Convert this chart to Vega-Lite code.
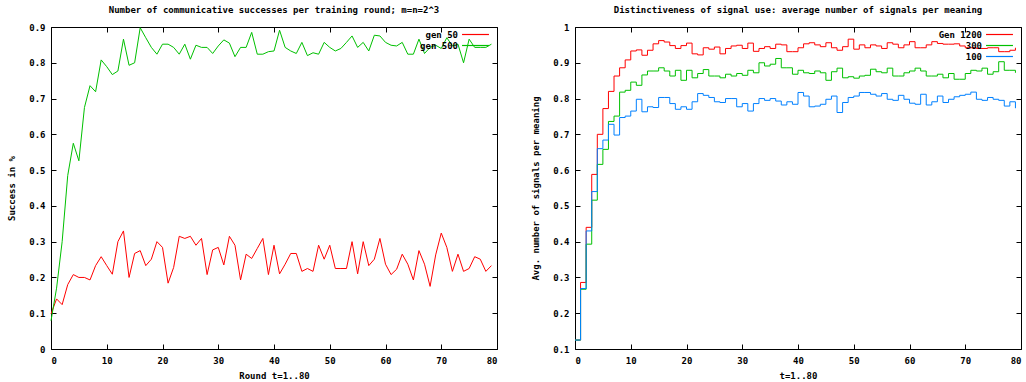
{
  "$schema": "https://vega.github.io/schema/vega-lite/v6.json",
  "background": "white",
  "padding": {"left": 7, "top": 5, "right": 0, "bottom": 0},
  "bounds": "flush",
  "spacing": 78,
  "resolve": {"scale": {"color": "independent"}, "legend": {"color": "independent"}},
  "config": {
    "font": "DejaVu Sans Mono",
    "view": {"stroke": "#000000", "strokeWidth": 1},
    "axis": {
      "domain": false,
      "grid": false,
      "tickColor": "#000000",
      "tickSize": -5,
      "labelPadding": 11,
      "labelFont": "DejaVu Sans Mono",
      "labelFontSize": 9,
      "labelFontWeight": "bold",
      "labelColor": "#000000",
      "titleFont": "DejaVu Sans Mono",
      "titleFontSize": 9,
      "titleFontWeight": "bold",
      "titleColor": "#000000"
    },
    "title": {"font": "DejaVu Sans Mono", "fontSize": 9, "fontWeight": "bold", "color": "#000000", "offset": 8, "anchor": "middle"},
    "legend": {
      "orient": "none",
      "legendX": 420,
      "legendY": 3,
      "symbolType": "M-5,0H5",
      "symbolSize": 29,
      "symbolStrokeWidth": 1.2,
      "labelAlign": "right",
      "labelOffset": -22,
      "labelFont": "DejaVu Sans Mono",
      "labelFontSize": 9,
      "labelFontWeight": "bold",
      "labelColor": "#000000",
      "padding": 0,
      "rowPadding": 1
    }
  },
  "datasets": {
    "success": [
      {"round": 0, "value": 0.098, "series": "gen 50"}, {"round": 1, "value": 0.14, "series": "gen 50"}, {"round": 2, "value": 0.124, "series": "gen 50"}, {"round": 3, "value": 0.18, "series": "gen 50"}, {"round": 4, "value": 0.208, "series": "gen 50"}, {"round": 5, "value": 0.2, "series": "gen 50"}, {"round": 6, "value": 0.2, "series": "gen 50"}, {"round": 7, "value": 0.193, "series": "gen 50"}, {"round": 8, "value": 0.233, "series": "gen 50"}, {"round": 9, "value": 0.258, "series": "gen 50"},
      {"round": 10, "value": 0.233, "series": "gen 50"}, {"round": 11, "value": 0.209, "series": "gen 50"}, {"round": 12, "value": 0.3, "series": "gen 50"}, {"round": 13, "value": 0.33, "series": "gen 50"}, {"round": 14, "value": 0.2, "series": "gen 50"}, {"round": 15, "value": 0.267, "series": "gen 50"}, {"round": 16, "value": 0.275, "series": "gen 50"}, {"round": 17, "value": 0.233, "series": "gen 50"}, {"round": 18, "value": 0.251, "series": "gen 50"}, {"round": 19, "value": 0.3, "series": "gen 50"},
      {"round": 20, "value": 0.284, "series": "gen 50"}, {"round": 21, "value": 0.184, "series": "gen 50"}, {"round": 22, "value": 0.228, "series": "gen 50"}, {"round": 23, "value": 0.315, "series": "gen 50"}, {"round": 24, "value": 0.309, "series": "gen 50"}, {"round": 25, "value": 0.315, "series": "gen 50"}, {"round": 26, "value": 0.29, "series": "gen 50"}, {"round": 27, "value": 0.309, "series": "gen 50"}, {"round": 28, "value": 0.208, "series": "gen 50"}, {"round": 29, "value": 0.277, "series": "gen 50"},
      {"round": 30, "value": 0.284, "series": "gen 50"}, {"round": 31, "value": 0.235, "series": "gen 50"}, {"round": 32, "value": 0.315, "series": "gen 50"}, {"round": 33, "value": 0.29, "series": "gen 50"}, {"round": 34, "value": 0.193, "series": "gen 50"}, {"round": 35, "value": 0.265, "series": "gen 50"}, {"round": 36, "value": 0.253, "series": "gen 50"}, {"round": 37, "value": 0.281, "series": "gen 50"}, {"round": 38, "value": 0.309, "series": "gen 50"}, {"round": 39, "value": 0.208, "series": "gen 50"},
      {"round": 40, "value": 0.29, "series": "gen 50"}, {"round": 41, "value": 0.21, "series": "gen 50"}, {"round": 42, "value": 0.237, "series": "gen 50"}, {"round": 43, "value": 0.267, "series": "gen 50"}, {"round": 44, "value": 0.267, "series": "gen 50"}, {"round": 45, "value": 0.217, "series": "gen 50"}, {"round": 46, "value": 0.225, "series": "gen 50"}, {"round": 47, "value": 0.217, "series": "gen 50"}, {"round": 48, "value": 0.29, "series": "gen 50"}, {"round": 49, "value": 0.251, "series": "gen 50"},
      {"round": 50, "value": 0.29, "series": "gen 50"}, {"round": 51, "value": 0.225, "series": "gen 50"}, {"round": 52, "value": 0.225, "series": "gen 50"}, {"round": 53, "value": 0.225, "series": "gen 50"}, {"round": 54, "value": 0.3, "series": "gen 50"}, {"round": 55, "value": 0.21, "series": "gen 50"}, {"round": 56, "value": 0.3, "series": "gen 50"}, {"round": 57, "value": 0.233, "series": "gen 50"}, {"round": 58, "value": 0.251, "series": "gen 50"}, {"round": 59, "value": 0.309, "series": "gen 50"},
      {"round": 60, "value": 0.237, "series": "gen 50"}, {"round": 61, "value": 0.208, "series": "gen 50"}, {"round": 62, "value": 0.223, "series": "gen 50"}, {"round": 63, "value": 0.265, "series": "gen 50"}, {"round": 64, "value": 0.237, "series": "gen 50"}, {"round": 65, "value": 0.193, "series": "gen 50"}, {"round": 66, "value": 0.275, "series": "gen 50"}, {"round": 67, "value": 0.237, "series": "gen 50"}, {"round": 68, "value": 0.175, "series": "gen 50"}, {"round": 69, "value": 0.263, "series": "gen 50"},
      {"round": 70, "value": 0.324, "series": "gen 50"}, {"round": 71, "value": 0.284, "series": "gen 50"}, {"round": 72, "value": 0.217, "series": "gen 50"}, {"round": 73, "value": 0.265, "series": "gen 50"}, {"round": 74, "value": 0.217, "series": "gen 50"}, {"round": 75, "value": 0.225, "series": "gen 50"}, {"round": 76, "value": 0.258, "series": "gen 50"}, {"round": 77, "value": 0.251, "series": "gen 50"}, {"round": 78, "value": 0.217, "series": "gen 50"}, {"round": 79, "value": 0.233, "series": "gen 50"},
      {"round": 0, "value": 0.079, "series": "gen 500"}, {"round": 1, "value": 0.17, "series": "gen 500"}, {"round": 2, "value": 0.3, "series": "gen 500"}, {"round": 3, "value": 0.485, "series": "gen 500"}, {"round": 4, "value": 0.575, "series": "gen 500"}, {"round": 5, "value": 0.526, "series": "gen 500"}, {"round": 6, "value": 0.675, "series": "gen 500"}, {"round": 7, "value": 0.736, "series": "gen 500"}, {"round": 8, "value": 0.719, "series": "gen 500"}, {"round": 9, "value": 0.808, "series": "gen 500"},
      {"round": 10, "value": 0.789, "series": "gen 500"}, {"round": 11, "value": 0.767, "series": "gen 500"}, {"round": 12, "value": 0.777, "series": "gen 500"}, {"round": 13, "value": 0.866, "series": "gen 500"}, {"round": 14, "value": 0.793, "series": "gen 500"}, {"round": 15, "value": 0.8, "series": "gen 500"}, {"round": 16, "value": 0.898, "series": "gen 500"}, {"round": 17, "value": 0.87, "series": "gen 500"}, {"round": 18, "value": 0.843, "series": "gen 500"}, {"round": 19, "value": 0.824, "series": "gen 500"},
      {"round": 20, "value": 0.852, "series": "gen 500"}, {"round": 21, "value": 0.852, "series": "gen 500"}, {"round": 22, "value": 0.843, "series": "gen 500"}, {"round": 23, "value": 0.824, "series": "gen 500"}, {"round": 24, "value": 0.852, "series": "gen 500"}, {"round": 25, "value": 0.81, "series": "gen 500"}, {"round": 26, "value": 0.849, "series": "gen 500"}, {"round": 27, "value": 0.843, "series": "gen 500"}, {"round": 28, "value": 0.843, "series": "gen 500"}, {"round": 29, "value": 0.826, "series": "gen 500"},
      {"round": 30, "value": 0.847, "series": "gen 500"}, {"round": 31, "value": 0.864, "series": "gen 500"}, {"round": 32, "value": 0.855, "series": "gen 500"}, {"round": 33, "value": 0.817, "series": "gen 500"}, {"round": 34, "value": 0.843, "series": "gen 500"}, {"round": 35, "value": 0.843, "series": "gen 500"}, {"round": 36, "value": 0.885, "series": "gen 500"}, {"round": 37, "value": 0.824, "series": "gen 500"}, {"round": 38, "value": 0.824, "series": "gen 500"}, {"round": 39, "value": 0.831, "series": "gen 500"},
      {"round": 40, "value": 0.833, "series": "gen 500"}, {"round": 41, "value": 0.891, "series": "gen 500"}, {"round": 42, "value": 0.843, "series": "gen 500"}, {"round": 43, "value": 0.833, "series": "gen 500"}, {"round": 44, "value": 0.826, "series": "gen 500"}, {"round": 45, "value": 0.857, "series": "gen 500"}, {"round": 46, "value": 0.82, "series": "gen 500"}, {"round": 47, "value": 0.828, "series": "gen 500"}, {"round": 48, "value": 0.824, "series": "gen 500"}, {"round": 49, "value": 0.857, "series": "gen 500"},
      {"round": 50, "value": 0.843, "series": "gen 500"}, {"round": 51, "value": 0.833, "series": "gen 500"}, {"round": 52, "value": 0.84, "series": "gen 500"}, {"round": 53, "value": 0.857, "series": "gen 500"}, {"round": 54, "value": 0.875, "series": "gen 500"}, {"round": 55, "value": 0.843, "series": "gen 500"}, {"round": 56, "value": 0.857, "series": "gen 500"}, {"round": 57, "value": 0.833, "series": "gen 500"}, {"round": 58, "value": 0.877, "series": "gen 500"}, {"round": 59, "value": 0.875, "series": "gen 500"},
      {"round": 60, "value": 0.857, "series": "gen 500"}, {"round": 61, "value": 0.849, "series": "gen 500"}, {"round": 62, "value": 0.847, "series": "gen 500"}, {"round": 63, "value": 0.857, "series": "gen 500"}, {"round": 64, "value": 0.824, "series": "gen 500"}, {"round": 65, "value": 0.824, "series": "gen 500"}, {"round": 66, "value": 0.866, "series": "gen 500"}, {"round": 67, "value": 0.826, "series": "gen 500"}, {"round": 68, "value": 0.843, "series": "gen 500"}, {"round": 69, "value": 0.849, "series": "gen 500"},
      {"round": 70, "value": 0.84, "series": "gen 500"}, {"round": 71, "value": 0.87, "series": "gen 500"}, {"round": 72, "value": 0.847, "series": "gen 500"}, {"round": 73, "value": 0.852, "series": "gen 500"}, {"round": 74, "value": 0.8, "series": "gen 500"}, {"round": 75, "value": 0.866, "series": "gen 500"}, {"round": 76, "value": 0.843, "series": "gen 500"}, {"round": 77, "value": 0.843, "series": "gen 500"}, {"round": 78, "value": 0.843, "series": "gen 500"}, {"round": 79, "value": 0.852, "series": "gen 500"}
    ],
    "signals": [
      {"t": 0, "value": 0.125, "series": "Gen 1200"}, {"t": 1, "value": 0.286, "series": "Gen 1200"}, {"t": 2, "value": 0.44, "series": "Gen 1200"}, {"t": 3, "value": 0.588, "series": "Gen 1200"}, {"t": 4, "value": 0.7, "series": "Gen 1200"}, {"t": 5, "value": 0.772, "series": "Gen 1200"}, {"t": 6, "value": 0.82, "series": "Gen 1200"}, {"t": 7, "value": 0.863, "series": "Gen 1200"}, {"t": 8, "value": 0.886, "series": "Gen 1200"}, {"t": 9, "value": 0.908, "series": "Gen 1200"},
      {"t": 10, "value": 0.933, "series": "Gen 1200"}, {"t": 11, "value": 0.936, "series": "Gen 1200"}, {"t": 12, "value": 0.921, "series": "Gen 1200"}, {"t": 13, "value": 0.935, "series": "Gen 1200"}, {"t": 14, "value": 0.953, "series": "Gen 1200"}, {"t": 15, "value": 0.962, "series": "Gen 1200"}, {"t": 16, "value": 0.958, "series": "Gen 1200"}, {"t": 17, "value": 0.948, "series": "Gen 1200"}, {"t": 18, "value": 0.94, "series": "Gen 1200"}, {"t": 19, "value": 0.948, "series": "Gen 1200"},
      {"t": 20, "value": 0.955, "series": "Gen 1200"}, {"t": 21, "value": 0.925, "series": "Gen 1200"}, {"t": 22, "value": 0.922, "series": "Gen 1200"}, {"t": 23, "value": 0.942, "series": "Gen 1200"}, {"t": 24, "value": 0.938, "series": "Gen 1200"}, {"t": 25, "value": 0.944, "series": "Gen 1200"}, {"t": 26, "value": 0.925, "series": "Gen 1200"}, {"t": 27, "value": 0.94, "series": "Gen 1200"}, {"t": 28, "value": 0.947, "series": "Gen 1200"}, {"t": 29, "value": 0.949, "series": "Gen 1200"},
      {"t": 30, "value": 0.94, "series": "Gen 1200"}, {"t": 31, "value": 0.955, "series": "Gen 1200"}, {"t": 32, "value": 0.932, "series": "Gen 1200"}, {"t": 33, "value": 0.94, "series": "Gen 1200"}, {"t": 34, "value": 0.945, "series": "Gen 1200"}, {"t": 35, "value": 0.94, "series": "Gen 1200"}, {"t": 36, "value": 0.952, "series": "Gen 1200"}, {"t": 37, "value": 0.95, "series": "Gen 1200"}, {"t": 38, "value": 0.931, "series": "Gen 1200"}, {"t": 39, "value": 0.931, "series": "Gen 1200"},
      {"t": 40, "value": 0.942, "series": "Gen 1200"}, {"t": 41, "value": 0.953, "series": "Gen 1200"}, {"t": 42, "value": 0.956, "series": "Gen 1200"}, {"t": 43, "value": 0.95, "series": "Gen 1200"}, {"t": 44, "value": 0.945, "series": "Gen 1200"}, {"t": 45, "value": 0.956, "series": "Gen 1200"}, {"t": 46, "value": 0.942, "series": "Gen 1200"}, {"t": 47, "value": 0.935, "series": "Gen 1200"}, {"t": 48, "value": 0.945, "series": "Gen 1200"}, {"t": 49, "value": 0.966, "series": "Gen 1200"},
      {"t": 50, "value": 0.938, "series": "Gen 1200"}, {"t": 51, "value": 0.95, "series": "Gen 1200"}, {"t": 52, "value": 0.942, "series": "Gen 1200"}, {"t": 53, "value": 0.95, "series": "Gen 1200"}, {"t": 54, "value": 0.947, "series": "Gen 1200"}, {"t": 55, "value": 0.94, "series": "Gen 1200"}, {"t": 56, "value": 0.956, "series": "Gen 1200"}, {"t": 57, "value": 0.952, "series": "Gen 1200"}, {"t": 58, "value": 0.942, "series": "Gen 1200"}, {"t": 59, "value": 0.95, "series": "Gen 1200"},
      {"t": 60, "value": 0.959, "series": "Gen 1200"}, {"t": 61, "value": 0.942, "series": "Gen 1200"}, {"t": 62, "value": 0.942, "series": "Gen 1200"}, {"t": 63, "value": 0.95, "series": "Gen 1200"}, {"t": 64, "value": 0.959, "series": "Gen 1200"}, {"t": 65, "value": 0.954, "series": "Gen 1200"}, {"t": 66, "value": 0.952, "series": "Gen 1200"}, {"t": 67, "value": 0.952, "series": "Gen 1200"}, {"t": 68, "value": 0.953, "series": "Gen 1200"}, {"t": 69, "value": 0.947, "series": "Gen 1200"},
      {"t": 70, "value": 0.942, "series": "Gen 1200"}, {"t": 71, "value": 0.942, "series": "Gen 1200"}, {"t": 72, "value": 0.94, "series": "Gen 1200"}, {"t": 73, "value": 0.94, "series": "Gen 1200"}, {"t": 74, "value": 0.942, "series": "Gen 1200"}, {"t": 75, "value": 0.942, "series": "Gen 1200"}, {"t": 76, "value": 0.931, "series": "Gen 1200"}, {"t": 77, "value": 0.931, "series": "Gen 1200"}, {"t": 78, "value": 0.935, "series": "Gen 1200"}, {"t": 79, "value": 0.942, "series": "Gen 1200"},
      {"t": 0, "value": 0.125, "series": "300"}, {"t": 1, "value": 0.267, "series": "300"}, {"t": 2, "value": 0.393, "series": "300"}, {"t": 3, "value": 0.516, "series": "300"}, {"t": 4, "value": 0.616, "series": "300"}, {"t": 5, "value": 0.658, "series": "300"}, {"t": 6, "value": 0.736, "series": "300"}, {"t": 7, "value": 0.751, "series": "300"}, {"t": 8, "value": 0.818, "series": "300"}, {"t": 9, "value": 0.823, "series": "300"},
      {"t": 10, "value": 0.846, "series": "300"}, {"t": 11, "value": 0.837, "series": "300"}, {"t": 12, "value": 0.866, "series": "300"}, {"t": 13, "value": 0.877, "series": "300"}, {"t": 14, "value": 0.877, "series": "300"}, {"t": 15, "value": 0.886, "series": "300"}, {"t": 16, "value": 0.877, "series": "300"}, {"t": 17, "value": 0.863, "series": "300"}, {"t": 18, "value": 0.879, "series": "300"}, {"t": 19, "value": 0.851, "series": "300"},
      {"t": 20, "value": 0.879, "series": "300"}, {"t": 21, "value": 0.858, "series": "300"}, {"t": 22, "value": 0.87, "series": "300"}, {"t": 23, "value": 0.881, "series": "300"}, {"t": 24, "value": 0.863, "series": "300"}, {"t": 25, "value": 0.863, "series": "300"}, {"t": 26, "value": 0.858, "series": "300"}, {"t": 27, "value": 0.868, "series": "300"}, {"t": 28, "value": 0.863, "series": "300"}, {"t": 29, "value": 0.87, "series": "300"},
      {"t": 30, "value": 0.865, "series": "300"}, {"t": 31, "value": 0.879, "series": "300"}, {"t": 32, "value": 0.872, "series": "300"}, {"t": 33, "value": 0.9, "series": "300"}, {"t": 34, "value": 0.891, "series": "300"}, {"t": 35, "value": 0.896, "series": "300"}, {"t": 36, "value": 0.912, "series": "300"}, {"t": 37, "value": 0.886, "series": "300"}, {"t": 38, "value": 0.886, "series": "300"}, {"t": 39, "value": 0.868, "series": "300"},
      {"t": 40, "value": 0.879, "series": "300"}, {"t": 41, "value": 0.872, "series": "300"}, {"t": 42, "value": 0.87, "series": "300"}, {"t": 43, "value": 0.877, "series": "300"}, {"t": 44, "value": 0.872, "series": "300"}, {"t": 45, "value": 0.851, "series": "300"}, {"t": 46, "value": 0.875, "series": "300"}, {"t": 47, "value": 0.885, "series": "300"}, {"t": 48, "value": 0.858, "series": "300"}, {"t": 49, "value": 0.861, "series": "300"},
      {"t": 50, "value": 0.857, "series": "300"}, {"t": 51, "value": 0.863, "series": "300"}, {"t": 52, "value": 0.865, "series": "300"}, {"t": 53, "value": 0.882, "series": "300"}, {"t": 54, "value": 0.875, "series": "300"}, {"t": 55, "value": 0.872, "series": "300"}, {"t": 56, "value": 0.885, "series": "300"}, {"t": 57, "value": 0.863, "series": "300"}, {"t": 58, "value": 0.863, "series": "300"}, {"t": 59, "value": 0.872, "series": "300"},
      {"t": 60, "value": 0.877, "series": "300"}, {"t": 61, "value": 0.885, "series": "300"}, {"t": 62, "value": 0.877, "series": "300"}, {"t": 63, "value": 0.863, "series": "300"}, {"t": 64, "value": 0.863, "series": "300"}, {"t": 65, "value": 0.868, "series": "300"}, {"t": 66, "value": 0.858, "series": "300"}, {"t": 67, "value": 0.87, "series": "300"}, {"t": 68, "value": 0.854, "series": "300"}, {"t": 69, "value": 0.854, "series": "300"},
      {"t": 70, "value": 0.87, "series": "300"}, {"t": 71, "value": 0.879, "series": "300"}, {"t": 72, "value": 0.877, "series": "300"}, {"t": 73, "value": 0.885, "series": "300"}, {"t": 74, "value": 0.868, "series": "300"}, {"t": 75, "value": 0.875, "series": "300"}, {"t": 76, "value": 0.903, "series": "300"}, {"t": 77, "value": 0.879, "series": "300"}, {"t": 78, "value": 0.879, "series": "300"}, {"t": 79, "value": 0.872, "series": "300"},
      {"t": 0, "value": 0.125, "series": "100"}, {"t": 1, "value": 0.269, "series": "100"}, {"t": 2, "value": 0.43, "series": "100"}, {"t": 3, "value": 0.54, "series": "100"}, {"t": 4, "value": 0.66, "series": "100"}, {"t": 5, "value": 0.684, "series": "100"}, {"t": 6, "value": 0.728, "series": "100"}, {"t": 7, "value": 0.698, "series": "100"}, {"t": 8, "value": 0.747, "series": "100"}, {"t": 9, "value": 0.751, "series": "100"},
      {"t": 10, "value": 0.765, "series": "100"}, {"t": 11, "value": 0.798, "series": "100"}, {"t": 12, "value": 0.763, "series": "100"}, {"t": 13, "value": 0.777, "series": "100"}, {"t": 14, "value": 0.775, "series": "100"}, {"t": 15, "value": 0.803, "series": "100"}, {"t": 16, "value": 0.803, "series": "100"}, {"t": 17, "value": 0.786, "series": "100"}, {"t": 18, "value": 0.77, "series": "100"}, {"t": 19, "value": 0.777, "series": "100"},
      {"t": 20, "value": 0.77, "series": "100"}, {"t": 21, "value": 0.791, "series": "100"}, {"t": 22, "value": 0.814, "series": "100"}, {"t": 23, "value": 0.809, "series": "100"}, {"t": 24, "value": 0.803, "series": "100"}, {"t": 25, "value": 0.791, "series": "100"}, {"t": 26, "value": 0.789, "series": "100"}, {"t": 27, "value": 0.8, "series": "100"}, {"t": 28, "value": 0.8, "series": "100"}, {"t": 29, "value": 0.777, "series": "100"},
      {"t": 30, "value": 0.786, "series": "100"}, {"t": 31, "value": 0.765, "series": "100"}, {"t": 32, "value": 0.786, "series": "100"}, {"t": 33, "value": 0.8, "series": "100"}, {"t": 34, "value": 0.795, "series": "100"}, {"t": 35, "value": 0.8, "series": "100"}, {"t": 36, "value": 0.793, "series": "100"}, {"t": 37, "value": 0.782, "series": "100"}, {"t": 38, "value": 0.791, "series": "100"}, {"t": 39, "value": 0.784, "series": "100"},
      {"t": 40, "value": 0.817, "series": "100"}, {"t": 41, "value": 0.807, "series": "100"}, {"t": 42, "value": 0.777, "series": "100"}, {"t": 43, "value": 0.779, "series": "100"}, {"t": 44, "value": 0.784, "series": "100"}, {"t": 45, "value": 0.798, "series": "100"}, {"t": 46, "value": 0.807, "series": "100"}, {"t": 47, "value": 0.761, "series": "100"}, {"t": 48, "value": 0.789, "series": "100"}, {"t": 49, "value": 0.803, "series": "100"},
      {"t": 50, "value": 0.807, "series": "100"}, {"t": 51, "value": 0.817, "series": "100"}, {"t": 52, "value": 0.817, "series": "100"}, {"t": 53, "value": 0.812, "series": "100"}, {"t": 54, "value": 0.807, "series": "100"}, {"t": 55, "value": 0.814, "series": "100"}, {"t": 56, "value": 0.798, "series": "100"}, {"t": 57, "value": 0.795, "series": "100"}, {"t": 58, "value": 0.809, "series": "100"}, {"t": 59, "value": 0.798, "series": "100"},
      {"t": 60, "value": 0.787, "series": "100"}, {"t": 61, "value": 0.784, "series": "100"}, {"t": 62, "value": 0.812, "series": "100"}, {"t": 63, "value": 0.782, "series": "100"}, {"t": 64, "value": 0.791, "series": "100"}, {"t": 65, "value": 0.807, "series": "100"}, {"t": 66, "value": 0.789, "series": "100"}, {"t": 67, "value": 0.798, "series": "100"}, {"t": 68, "value": 0.805, "series": "100"}, {"t": 69, "value": 0.809, "series": "100"},
      {"t": 70, "value": 0.812, "series": "100"}, {"t": 71, "value": 0.818, "series": "100"}, {"t": 72, "value": 0.798, "series": "100"}, {"t": 73, "value": 0.795, "series": "100"}, {"t": 74, "value": 0.803, "series": "100"}, {"t": 75, "value": 0.798, "series": "100"}, {"t": 76, "value": 0.795, "series": "100"}, {"t": 77, "value": 0.779, "series": "100"}, {"t": 78, "value": 0.791, "series": "100"}, {"t": 79, "value": 0.773, "series": "100"}
    ]
  },
  "hconcat": [
    {
      "width": 446,
      "height": 322,
      "title": "Number of communicative successes per training round; m=n=2^3",
      "data": {"name": "success"},
      "layer": [
        {
          "mark": {"type": "line", "strokeWidth": 1},
          "encoding": {
            "x": {"field": "round", "type": "quantitative", "scale": {"domain": [0, 80], "nice": false}, "axis": {"values": [0, 10, 20, 30, 40, 50, 60, 70, 80], "title": "Round t=1..80", "titlePadding": 6, "labelPadding": 12}},
            "y": {"field": "value", "type": "quantitative", "scale": {"domain": [0, 0.9], "nice": false}, "axis": {"values": [0, 0.1, 0.2, 0.3, 0.4, 0.5, 0.6, 0.7, 0.8, 0.9], "format": "~g", "title": "Success in %", "titlePadding": 12}},
            "color": {"field": "series", "type": "nominal", "scale": {"domain": ["gen 50", "gen 500"], "range": ["#ff0000", "#00c000"]}, "legend": {"title": null}}
          }
        },
        {
          "mark": {"type": "point", "opacity": 0},
          "encoding": {
            "x": {"field": "round", "type": "quantitative", "axis": {"orient": "top", "values": [0, 10, 20, 30, 40, 50, 60, 70, 80], "labels": false, "title": null}},
            "y": {"field": "value", "type": "quantitative", "axis": {"orient": "right", "values": [0, 0.1, 0.2, 0.3, 0.4, 0.5, 0.6, 0.7, 0.8, 0.9], "labels": false, "title": null}}
          }
        }
      ],
      "resolve": {"axis": {"x": "independent", "y": "independent"}}
    },
    {
      "width": 446,
      "height": 322,
      "title": "Distinctiveness of signal use: average number of signals per meaning",
      "data": {"name": "signals"},
      "layer": [
        {
          "mark": {"type": "line", "strokeWidth": 1, "interpolate": "step-after"},
          "encoding": {
            "x": {"field": "t", "type": "quantitative", "scale": {"domain": [0, 80], "nice": false}, "axis": {"values": [0, 10, 20, 30, 40, 50, 60, 70, 80], "title": "t=1..80", "titlePadding": 6, "labelPadding": 12}},
            "y": {"field": "value", "type": "quantitative", "scale": {"domain": [0.1, 1], "nice": false}, "axis": {"values": [0.1, 0.2, 0.3, 0.4, 0.5, 0.6, 0.7, 0.8, 0.9, 1], "format": "~g", "title": "Avg. number of signals per meaning", "titlePadding": 12}},
            "color": {"field": "series", "type": "nominal", "scale": {"domain": ["Gen 1200", "300", "100"], "range": ["#ff0000", "#00c000", "#0080ff"]}, "legend": {"title": null}}
          }
        },
        {
          "mark": {"type": "point", "opacity": 0},
          "encoding": {
            "x": {"field": "t", "type": "quantitative", "axis": {"orient": "top", "values": [0, 10, 20, 30, 40, 50, 60, 70, 80], "labels": false, "title": null}},
            "y": {"field": "value", "type": "quantitative", "axis": {"orient": "right", "values": [0.1, 0.2, 0.3, 0.4, 0.5, 0.6, 0.7, 0.8, 0.9, 1], "labels": false, "title": null}}
          }
        }
      ],
      "resolve": {"axis": {"x": "independent", "y": "independent"}}
    }
  ]
}
